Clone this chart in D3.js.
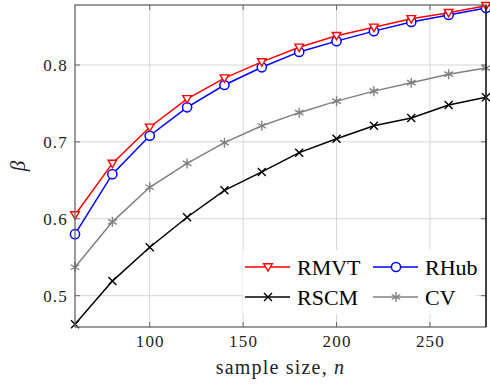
<!DOCTYPE html>
<html lang="en">
<head>
<meta charset="UTF-8">
<title>beta vs sample size</title>
<script src="https://d3js.org/d3.v7.min.js"></script>
<style>
    body { margin: 0; background: #fff; }
    svg text { font-family: "Liberation Serif", "DejaVu Serif", serif; fill: #222; }
</style>
</head>
<body>
<div id="chart"></div>
<script>
    // data
    var sampleSizes = [60, 80, 100, 120, 140, 160, 180, 200, 220, 240, 260, 280];
    var rmvt = [0.605, 0.672, 0.719, 0.756, 0.783, 0.804, 0.823, 0.838, 0.849, 0.860, 0.868, 0.877];
    var rhub = [0.580, 0.658, 0.708, 0.745, 0.774, 0.797, 0.817, 0.831, 0.844, 0.856, 0.865, 0.874];
    var rscm = [0.463, 0.519, 0.563, 0.602, 0.637, 0.661, 0.686, 0.704, 0.721, 0.731, 0.748, 0.758];
    var cv = [0.537, 0.596, 0.641, 0.672, 0.699, 0.721, 0.738, 0.753, 0.766, 0.777, 0.788, 0.796];
    var xTicks = [100, 150, 200, 250];
    var yTicks = [0.5, 0.6, 0.7, 0.8];

    var series = [
        {name: "CV", values: cv, color: "#808080", marker: "star"},
        {name: "RSCM", values: rscm, color: "#000000", marker: "cross"},
        {name: "RHub", values: rhub, color: "#0000ff", marker: "circle"},
        {name: "RMVT", values: rmvt, color: "#ff0000", marker: "triangle"}
    ];
    var legendOrder = ["RMVT", "RHub", "RSCM", "CV"];

    var W = 490, H = 386;
    var margin = {top: 5, right: 4, bottom: 59, left: 75};
    var width = W - margin.left - margin.right,
        height = H - margin.top - margin.bottom;

    var svg = d3.select("#chart").append("svg")
        .attr("width", W).attr("height", H);
    var g = svg.append("g")
        .attr("transform", `translate(${margin.left},${margin.top})`);

    var x = d3.scaleLinear().domain([60, 280]).range([0, width]);
    var y = d3.scaleLinear().domain([0.4593, 0.878]).range([height, 0]);

    // grid
    g.append("g").selectAll("line").data(xTicks).enter().append("line")
        .attr("x1", d => x(d)).attr("x2", d => x(d))
        .attr("y1", 0).attr("y2", height)
        .attr("stroke", "#d6d6d6").attr("stroke-width", 1);
    g.append("g").selectAll("line").data(yTicks).enter().append("line")
        .attr("y1", d => y(d)).attr("y2", d => y(d))
        .attr("x1", 0).attr("x2", width)
        .attr("stroke", "#d6d6d6").attr("stroke-width", 1);

    // markers
    function drawMarker(sel, type, color) {
        if (type === "circle") {
            sel.append("circle").attr("r", 4.6)
                .attr("fill", "white").attr("stroke", color).attr("stroke-width", 1.5);
        } else if (type === "triangle") {
            sel.append("path").attr("d", "M-4.3,-3.2 L4.3,-3.2 L0,4.2 Z")
                .attr("fill", "white").attr("stroke", color).attr("stroke-width", 1.4);
        } else if (type === "cross") {
            sel.append("path").attr("d", "M-4,-4 L4,4 M-4,4 L4,-4")
                .attr("stroke", color).attr("stroke-width", 1.4);
        } else {
            sel.append("path").attr("d", "M0,-5 L0,5 M-4.3,-2.5 L4.3,2.5 M-4.3,2.5 L4.3,-2.5")
                .attr("stroke", color).attr("stroke-width", 1.4);
        }
    }

    var line = d3.line()
        .x((d, i) => x(sampleSizes[i]))
        .y(d => y(d));

    var plot = g.append("g");
    series.forEach(function (s) {
        plot.append("path")
            .datum(s.values)
            .attr("fill", "none")
            .attr("stroke", s.color)
            .attr("stroke-width", 1.5)
            .attr("d", line);
        plot.selectAll(null).data(s.values).enter().append("g")
            .attr("transform", (d, i) => `translate(${x(sampleSizes[i])},${y(d)})`)
            .each(function () { drawMarker(d3.select(this), s.marker, s.color); });
    });

    // legend
    var leg = g.append("g").attr("transform", `translate(${243 - margin.left},${250 - margin.top})`);
    leg.append("rect").attr("width", 233).attr("height", 64).attr("fill", "white");
    legendOrder.forEach(function (name, i) {
        var s = series.find(d => d.name === name);
        var col = i % 2, row = Math.floor(i / 2);
        var ox = 2 + col * 128, oy = 17 + row * 30;
        leg.append("line").attr("x1", ox).attr("x2", ox + 45)
            .attr("y1", oy).attr("y2", oy)
            .attr("stroke", s.color).attr("stroke-width", 1.5);
        var m = leg.append("g").attr("transform", `translate(${ox + 23},${oy})`);
        drawMarker(m, s.marker, s.color);
        leg.append("text").attr("x", ox + 52).attr("y", oy + 8)
            .attr("font-size", 22).style("fill", "#000").text(name);
    });

    // axes with inward ticks on all sides
    var axisColor = "#666";
    function tickMarks(parent, vals, horizontal) {
        vals.forEach(function (v) {
            if (horizontal) {
                parent.append("line").attr("x1", x(v)).attr("x2", x(v)).attr("y1", height).attr("y2", height - 5)
                    .attr("stroke", axisColor);
                parent.append("line").attr("x1", x(v)).attr("x2", x(v)).attr("y1", 0).attr("y2", 5)
                    .attr("stroke", axisColor);
            } else {
                parent.append("line").attr("y1", y(v)).attr("y2", y(v)).attr("x1", 0).attr("x2", 5)
                    .attr("stroke", axisColor);
                parent.append("line").attr("y1", y(v)).attr("y2", y(v)).attr("x1", width).attr("x2", width - 5)
                    .attr("stroke", axisColor);
            }
        });
    }
    var ax = g.append("g");
    tickMarks(ax, xTicks, true);
    tickMarks(ax, yTicks, false);
    ax.append("rect").attr("width", width).attr("height", height)
        .attr("fill", "none").attr("stroke", axisColor).attr("stroke-width", 1.3);
    ax.append("line").attr("x1", width).attr("x2", width).attr("y1", 0).attr("y2", height)
        .attr("stroke", "#111").attr("stroke-width", 1.3);

    var xAxis = d3.axisBottom(x).tickValues(xTicks).tickSize(0).tickPadding(8).tickFormat(d3.format("d"));
    g.append("g").attr("transform", `translate(0,${height})`).call(xAxis)
        .call(a => a.select(".domain").remove())
        .selectAll("text").attr("font-size", 17).attr("letter-spacing", 1.2)
        .attr("font-family", "Liberation Serif, serif").style("fill", "#222");

    var yAxis = d3.axisLeft(y).tickValues(yTicks).tickSize(0).tickPadding(7).tickFormat(d3.format(".1f"));
    g.append("g").call(yAxis)
        .call(a => a.select(".domain").remove())
        .selectAll("text").attr("font-size", 17).attr("letter-spacing", 1.2)
        .attr("font-family", "Liberation Serif, serif").style("fill", "#222");

    // axis labels
    var xl = svg.append("text").attr("x", margin.left + width / 2).attr("y", 374)
        .attr("text-anchor", "middle").attr("font-size", 20).attr("letter-spacing", 1.2);
    xl.append("tspan").text("sample size, ");
    xl.append("tspan").attr("font-style", "italic").text("n");

    svg.append("text")
        .attr("transform", `translate(25,${margin.top + height / 2}) rotate(-90)`)
        .attr("text-anchor", "middle").attr("font-size", 21).attr("font-style", "italic")
        .text("β");
</script>
</body>
</html>
